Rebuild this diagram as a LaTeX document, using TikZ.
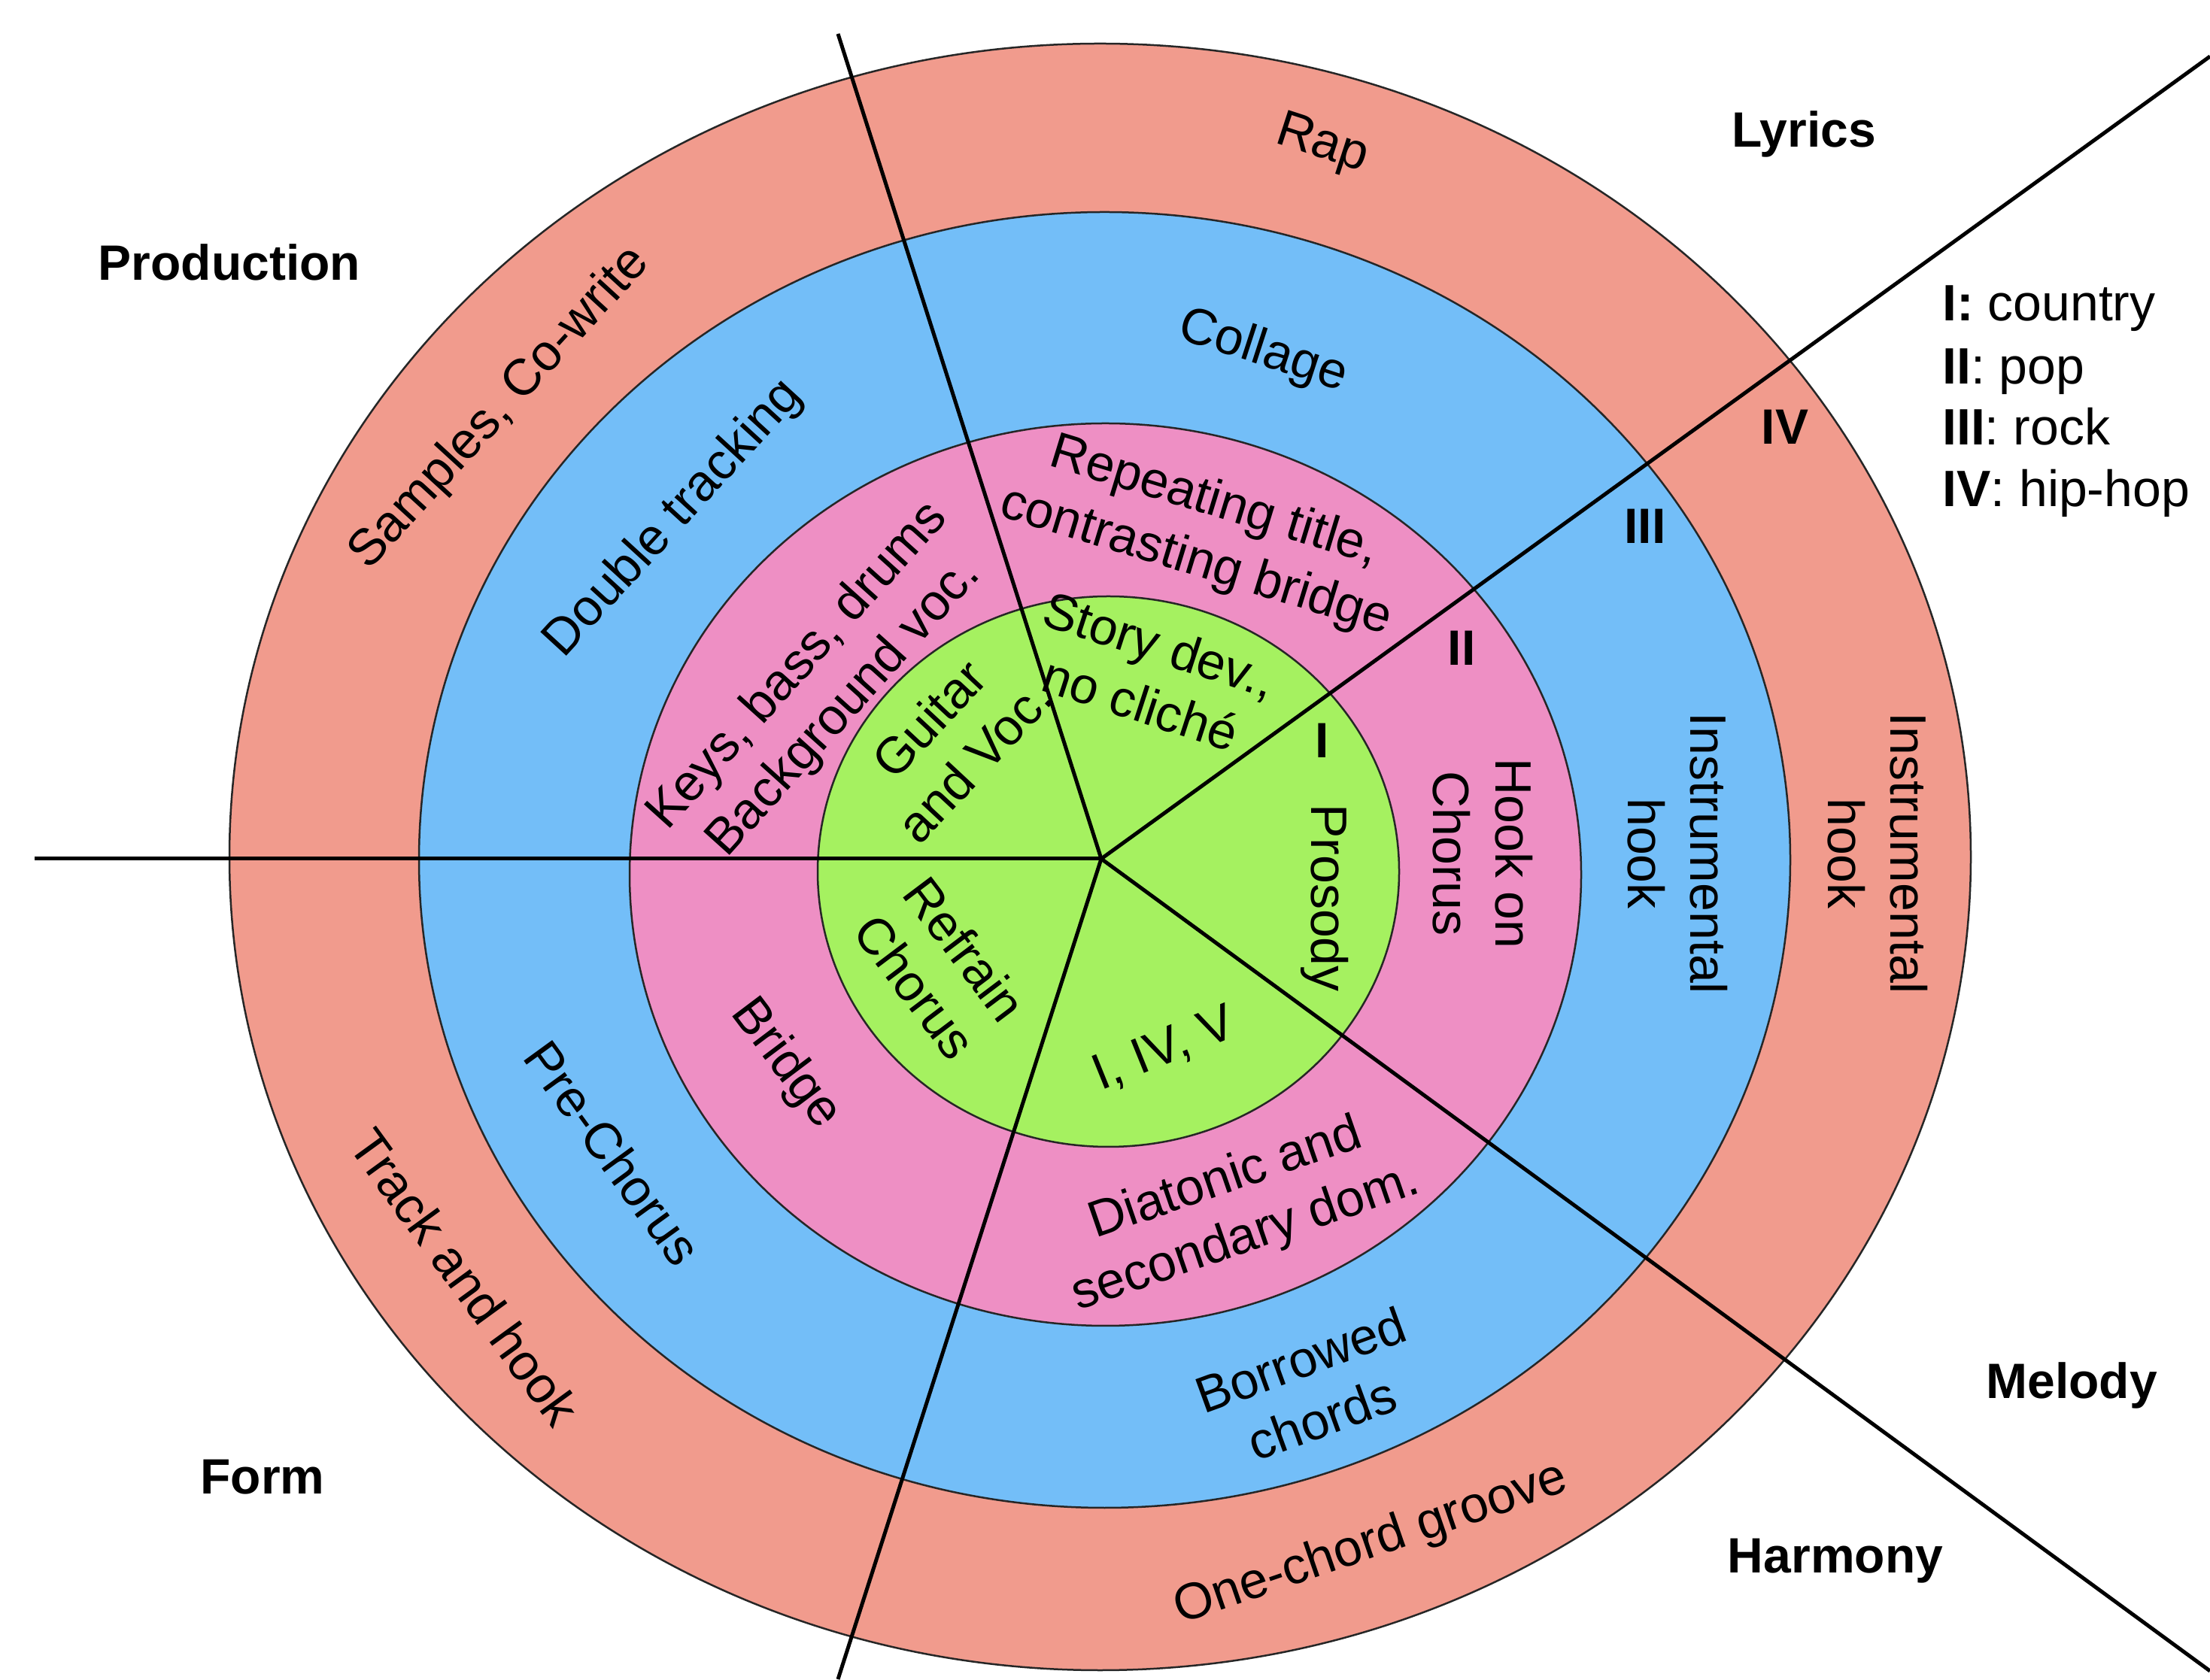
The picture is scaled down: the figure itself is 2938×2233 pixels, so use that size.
\documentclass[tikz,border=0pt]{standalone}
\usepackage{fontspec}
\setmainfont{Liberation Sans}
\definecolor{ringR}{HTML}{F19B8D}
\definecolor{ringB}{HTML}{73BEF8}
\definecolor{ringP}{HTML}{EE8FC4}
\definecolor{ringG}{HTML}{A5F160}
\tikzset{
  ring/.style={draw=black!85, line width=2.5pt},
  sep/.style={draw=black, line width=5pt},
  lbl/.style={font=\fontsize{68}{83}\selectfont, align=center, inner sep=0pt, text=black},
  cat/.style={font=\fontsize{66}{80}\selectfont\bfseries, inner sep=0pt, text=black},
  num/.style={font=\fontsize{66}{80}\selectfont\bfseries, inner sep=0pt, text=black},
  leg/.style={font=\fontsize{68}{83}\selectfont, inner sep=0pt, anchor=base west, text=black},
}
\begin{document}
\begin{tikzpicture}[x=1pt,y=1pt]
\useasboundingbox (0,0) rectangle (2938,2233);
% rings
\filldraw[ring, fill=ringR] (1462.5,1093.5) ellipse [x radius=1157.5, y radius=1081.5];
\filldraw[ring, fill=ringB] (1468.5,1089.5) ellipse [x radius=911.5, y radius=861.5];
\filldraw[ring, fill=ringP] (1469.5,1070) ellipse [x radius=632.5, y radius=600];
\filldraw[ring, fill=ringG] (1473.5,1074) ellipse [x radius=386.5, y radius=366];
% separators
\coordinate (O) at (1464,1091);
\coordinate (eW) at (46,1091);
\coordinate (eNW) at (1114,2188);
\coordinate (eNE) at (2938,2158);
\coordinate (eSE) at (2938,11);
\coordinate (eS) at (1114,0);
\draw[sep] (O) -- (eW);
\draw[sep] (O) -- (eNW);
\draw[sep] (O) -- (eNE);
\draw[sep] (O) -- (eSE);
\draw[sep] (O) -- (eS);
% Lyrics sector
\node[lbl, rotate=-18] (rap) at (1757.5,2040) {Rap};
\node[lbl, rotate=-18] (collage) at (1679,1765) {Collage};
\node[lbl, rotate=-17] (repeat) at (1602,1525) {Repeating title,\\contrasting bridge};
\node[lbl, rotate=-18] (story) at (1529,1337) {Story dev.,\\no cliché};
% Production sector
\node[lbl, rotate=47.5] (samples) at (665,1690) {Samples, Co-write};
\node[lbl, rotate=47.5] (double) at (896,1543) {Double tracking};
\node[lbl, rotate=48] (keys) at (1092,1319) {Keys, bass, drums\\Background voc.};
\node[lbl, rotate=47] (guitar) at (1265,1249) {Guitar\\and Voc.};
% Form sector
\node[lbl, rotate=-53] (refrain) at (1250,946) {Refrain\\Chorus};
\node[lbl, rotate=-53] (bridge) at (1044,818) {Bridge};
\node[lbl, rotate=-54] (prechorus) at (815,700) {Pre-Chorus};
\node[lbl, rotate=-54] (track) at (618,535) {Track and hook};
% Harmony sector
\node[lbl, rotate=22] (chords1) at (1548,837) {I, IV, V};
\node[lbl, rotate=19] (diatonic) at (1643,625) {Diatonic and\\secondary dom.};
\node[lbl, rotate=20] (borrowed) at (1743,386) {Borrowed\\chords};
\node[lbl, rotate=19] (groove) at (1823,179) {One-chord groove};
% Melody sector
\node[lbl, rotate=-90] (prosody) at (1761,1039) {Prosody};
\node[lbl, rotate=-90] (hookon) at (1971,1098) {Hook on\\Chorus};
\node[lbl, rotate=-90] (instrB) at (2230,1098) {Instrumental\\hook};
\node[lbl, rotate=-90] (instrR) at (2496,1098) {Instrumental\\hook};
% numerals
\node[num] (n1) at (1758,1248) {I};
\node[num] (n2) at (1943,1371) {II};
\node[num] (n3) at (2187,1533) {III};
\node[num] (n4) at (2373,1665) {IV};
% categories
\node[cat] (production) at (305,1884) {Production};
\node[cat] (lyrics) at (2398,2055) {Lyrics};
\node[cat] (melody) at (2754,391) {Melody};
\node[cat] (harmony) at (2440,157) {Harmony};
\node[cat] (form) at (349,269) {Form};
% legend
\node[leg] (leg1) at (2582,1806) {\textbf{I:} country};
\node[leg] (leg2) at (2582,1722) {\textbf{II}: pop};
\node[leg] (leg3) at (2582,1641) {\textbf{III}: rock};
\node[leg] (leg4) at (2582,1559) {\textbf{IV}: hip-hop};
\end{tikzpicture}
\end{document}
